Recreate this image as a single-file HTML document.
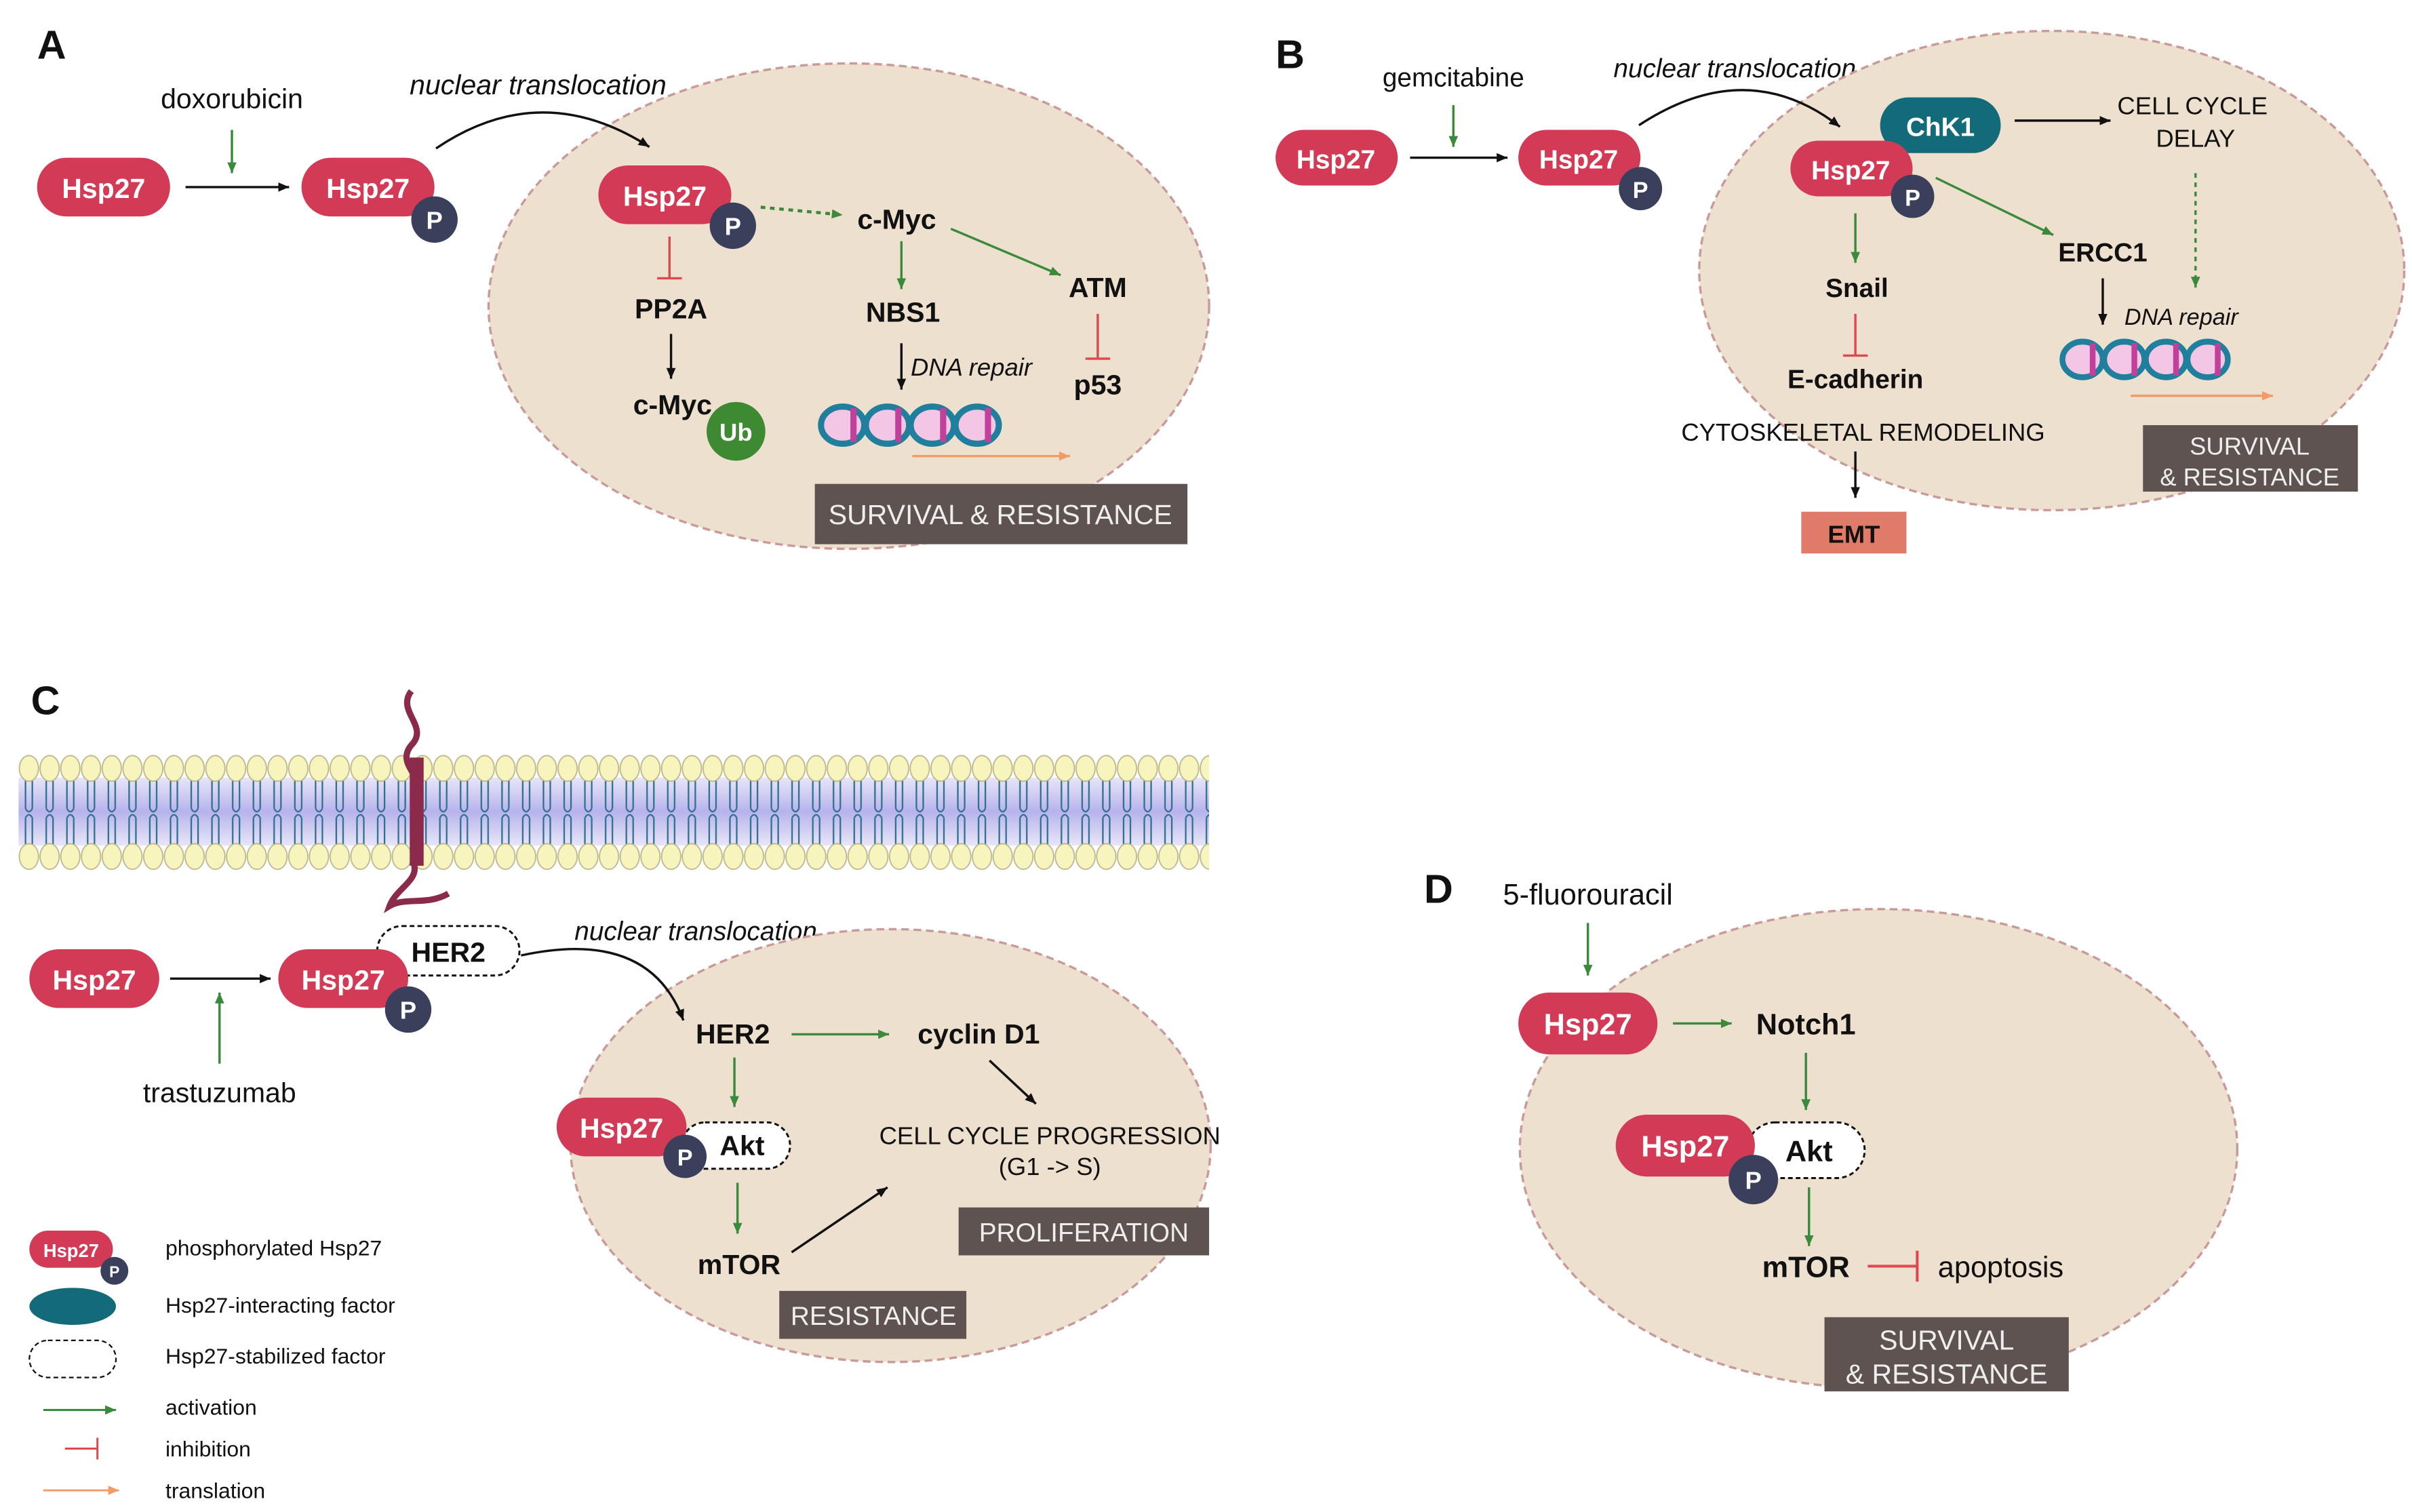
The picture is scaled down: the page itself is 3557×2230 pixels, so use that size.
<!DOCTYPE html>
<html><head><meta charset="utf-8"><style>html,body{margin:0;padding:0;background:#fff}svg{display:block}text{font-family:"Liberation Sans",sans-serif}</style></head><body>
<svg width="3557" height="2230" viewBox="0 0 1560 978" xmlns="http://www.w3.org/2000/svg">
<defs>
<marker id="ak" markerWidth="8" markerHeight="8" refX="7" refY="4" orient="auto" markerUnits="userSpaceOnUse"><path d="M0,1 L7,4 L0,7 z" fill="#111"/></marker>
<marker id="ag" markerWidth="8" markerHeight="8" refX="7" refY="4" orient="auto" markerUnits="userSpaceOnUse"><path d="M0,1 L7,4 L0,7 z" fill="#3b8a3b"/></marker>
<marker id="ao" markerWidth="8" markerHeight="8" refX="7" refY="4" orient="auto" markerUnits="userSpaceOnUse"><path d="M0,1 L7,4 L0,7 z" fill="#f39a66"/></marker>
<linearGradient id="band" x1="0" y1="0" x2="0" y2="1"><stop offset="0" stop-color="#e8e6f8"/><stop offset="0.5" stop-color="#b7b3ec"/><stop offset="1" stop-color="#e8e6f8"/></linearGradient>
<pattern id="mem" x="12" y="486" width="13.4" height="80" patternUnits="userSpaceOnUse">
<path d="M4.5,19 V37 M8.9,19 V37 M4.5,37 q2.2,4 4.4,0 M4.5,61 V43 M8.9,61 V43 M4.5,43 q2.2,-4 4.4,0" stroke="#2f6f8f" stroke-width="1" fill="none"/>
<ellipse cx="6.7" cy="11" rx="6.2" ry="8.3" fill="#f8f4be" stroke="#bdb78c" stroke-width="0.8"/>
<ellipse cx="6.7" cy="68" rx="6.2" ry="8.3" fill="#f8f4be" stroke="#bdb78c" stroke-width="0.8"/>
</pattern>
<g id="dna">
<ellipse cx="15" cy="13" rx="14" ry="12" fill="#f4c6e6" stroke="#1f7f9c" stroke-width="4"/>
<ellipse cx="44" cy="13" rx="14" ry="12" fill="#f4c6e6" stroke="#1f7f9c" stroke-width="4"/>
<ellipse cx="73" cy="13" rx="14" ry="12" fill="#f4c6e6" stroke="#1f7f9c" stroke-width="4"/>
<ellipse cx="102" cy="13" rx="14" ry="12" fill="#f4c6e6" stroke="#1f7f9c" stroke-width="4"/>
<path d="M22,2 V24 M51,2 V24 M80,2 V24 M109,2 V24" stroke="#c0409a" stroke-width="4"/>
</g>
</defs>
<g font-size="18" fill="#111">
<!-- Panel A -->
<text x="24" y="38" font-size="26" font-weight="bold">A</text>
<text x="150" y="70" text-anchor="middle">doxorubicin</text>
<line x1="150" y1="84" x2="150" y2="112" stroke="#3b8a3b" stroke-width="1.5" marker-end="url(#ag)"/>
<rect x="24" y="102" width="86" height="38" rx="19" fill="#d33a55"/><text x="67" y="128" text-anchor="middle" fill="#fff" font-weight="bold">Hsp27</text>
<line x1="120" y1="121" x2="187" y2="121" stroke="#111" stroke-width="1.5" marker-end="url(#ak)"/>
<rect x="195" y="102" width="86" height="38" rx="19" fill="#d33a55"/><text x="238" y="128" text-anchor="middle" fill="#fff" font-weight="bold">Hsp27</text>
<circle cx="281" cy="142" r="15" fill="#3a3f5c"/><text x="281" y="148" text-anchor="middle" fill="#fff" font-weight="bold" font-size="16">P</text>
<text x="348" y="61" text-anchor="middle" font-style="italic">nuclear translocation</text>
<ellipse cx="549" cy="198" rx="233" ry="157" fill="#eee0cf" stroke="#c89a9a" stroke-width="1.5" stroke-dasharray="5,3"/>
<path d="M282,96 Q350,50 420,95" stroke="#111" stroke-width="1.5" fill="none" marker-end="url(#ak)"/>
<rect x="387" y="107" width="86" height="38" rx="19" fill="#d33a55"/><text x="430" y="133" text-anchor="middle" fill="#fff" font-weight="bold">Hsp27</text>
<circle cx="474" cy="146" r="15" fill="#3a3f5c"/><text x="474" y="152" text-anchor="middle" fill="#fff" font-weight="bold" font-size="16">P</text>
<line x1="492" y1="134" x2="545" y2="139" stroke="#3b8a3b" stroke-width="2" stroke-dasharray="3,3" marker-end="url(#ag)"/>
<text x="580" y="148" text-anchor="middle" font-weight="bold">c-Myc</text>
<line x1="583" y1="156" x2="583" y2="187" stroke="#3b8a3b" stroke-width="1.5" marker-end="url(#ag)"/>
<text x="584" y="208" text-anchor="middle" font-weight="bold">NBS1</text>
<line x1="615" y1="148" x2="686" y2="178" stroke="#3b8a3b" stroke-width="1.5" marker-end="url(#ag)"/>
<text x="710" y="192" text-anchor="middle" font-weight="bold">ATM</text>
<path d="M433,153 V180 M425,180 H441" stroke="#e0474f" stroke-width="1.5"/>
<text x="434" y="206" text-anchor="middle" font-weight="bold">PP2A</text>
<line x1="434" y1="216" x2="434" y2="245" stroke="#111" stroke-width="1.5" marker-end="url(#ak)"/>
<text x="435" y="268" text-anchor="middle" font-weight="bold">c-Myc</text>
<circle cx="476" cy="279" r="19" fill="#3d8a32"/><text x="476" y="285" text-anchor="middle" fill="#fff" font-weight="bold" font-size="16">Ub</text>
<line x1="583" y1="222" x2="583" y2="252" stroke="#111" stroke-width="1.5" marker-end="url(#ak)"/>
<text x="589" y="243" font-style="italic" font-size="16">DNA repair</text>
<path d="M710,203 V232 M702,232 H718" stroke="#e0474f" stroke-width="1.5"/>
<text x="710" y="255" text-anchor="middle" font-weight="bold">p53</text>
<use href="#dna" x="530" y="262"/>
<line x1="590" y1="295" x2="692" y2="295" stroke="#f39a66" stroke-width="1.5" marker-end="url(#ao)"/>
<rect x="527" y="313" width="241" height="39" fill="#5e5350"/><text x="647" y="339" text-anchor="middle" fill="#eee">SURVIVAL &amp; RESISTANCE</text>

<!-- Panel B -->
<text x="825" y="44" font-size="26" font-weight="bold">B</text>
<text x="940" y="56" text-anchor="middle" font-size="17">gemcitabine</text>
<line x1="940" y1="68" x2="940" y2="95" stroke="#3b8a3b" stroke-width="1.5" marker-end="url(#ag)"/>
<rect x="825" y="84" width="79" height="36" rx="18" fill="#d33a55"/><text x="864" y="109" text-anchor="middle" fill="#fff" font-weight="bold" font-size="17">Hsp27</text>
<line x1="912" y1="102" x2="975" y2="102" stroke="#111" stroke-width="1.5" marker-end="url(#ak)"/>
<rect x="982" y="84" width="79" height="36" rx="18" fill="#d33a55"/><text x="1021" y="109" text-anchor="middle" fill="#fff" font-weight="bold" font-size="17">Hsp27</text>
<circle cx="1061" cy="122" r="14" fill="#3a3f5c"/><text x="1061" y="128" text-anchor="middle" fill="#fff" font-weight="bold" font-size="15">P</text>
<text x="1122" y="50" text-anchor="middle" font-style="italic" font-size="17">nuclear translocation</text>
<ellipse cx="1327" cy="175" rx="228" ry="155" fill="#eee0cf" stroke="#c89a9a" stroke-width="1.5" stroke-dasharray="5,3"/>
<path d="M1060,81 Q1130,35 1190,82" stroke="#111" stroke-width="1.5" fill="none" marker-end="url(#ak)"/>
<rect x="1216" y="63" width="78" height="36" rx="18" fill="#136a78"/><text x="1255" y="88" text-anchor="middle" fill="#fff" font-weight="bold" font-size="17">ChK1</text>
<line x1="1303" y1="78" x2="1365" y2="78" stroke="#111" stroke-width="1.5" marker-end="url(#ak)"/>
<text x="1418" y="74" text-anchor="middle" font-size="16">CELL CYCLE</text><text x="1420" y="95" text-anchor="middle" font-size="16">DELAY</text>
<line x1="1420" y1="112" x2="1420" y2="186" stroke="#3b8a3b" stroke-width="1.5" stroke-dasharray="3,3" marker-end="url(#ag)"/>
<rect x="1158" y="91" width="79" height="36" rx="18" fill="#d33a55"/><text x="1197" y="116" text-anchor="middle" fill="#fff" font-weight="bold" font-size="17">Hsp27</text>
<circle cx="1237" cy="127" r="14" fill="#3a3f5c"/><text x="1237" y="133" text-anchor="middle" fill="#fff" font-weight="bold" font-size="15">P</text>
<line x1="1252" y1="115" x2="1328" y2="152" stroke="#3b8a3b" stroke-width="1.5" marker-end="url(#ag)"/>
<text x="1360" y="169" text-anchor="middle" font-weight="bold" font-size="17">ERCC1</text>
<line x1="1200" y1="138" x2="1200" y2="170" stroke="#3b8a3b" stroke-width="1.5" marker-end="url(#ag)"/>
<text x="1201" y="192" text-anchor="middle" font-weight="bold" font-size="17">Snail</text>
<path d="M1200,203 V230 M1192,230 H1208" stroke="#e0474f" stroke-width="1.5"/>
<text x="1200" y="251" text-anchor="middle" font-weight="bold" font-size="17">E-cadherin</text>
<line x1="1360" y1="180" x2="1360" y2="210" stroke="#111" stroke-width="1.5" marker-end="url(#ak)"/>
<text x="1374" y="210" font-style="italic" font-size="15">DNA repair</text>
<use href="#dna" x="1333" y="220" transform="translate(1333,220) scale(0.93,0.96) translate(-1333,-220)"/>
<line x1="1378" y1="256" x2="1470" y2="256" stroke="#f39a66" stroke-width="1.5" marker-end="url(#ao)"/>
<text x="1205" y="285" text-anchor="middle" font-size="16">CYTOSKELETAL REMODELING</text>
<line x1="1200" y1="292" x2="1200" y2="322" stroke="#111" stroke-width="1.5" marker-end="url(#ak)"/>
<rect x="1165" y="331" width="68" height="27" fill="#e07b6a"/><text x="1199" y="351" text-anchor="middle" font-weight="bold" font-size="16">EMT</text>
<rect x="1386" y="275" width="139" height="43" fill="#5e5350"/><text x="1455" y="294" text-anchor="middle" fill="#eee" font-size="16">SURVIVAL</text><text x="1455" y="314" text-anchor="middle" fill="#eee" font-size="16">&amp; RESISTANCE</text>

<!-- Panel C -->
<text x="20" y="462" font-size="26" font-weight="bold">C</text>
<rect x="12" y="503" width="770" height="44" fill="url(#band)"/>
<rect x="12" y="486" width="770" height="80" fill="url(#mem)"/>
<path d="M266,447 C256,460 278,470 266,482 C256,494 274,502 268,510 L268,560 C270,570 256,575 252,586 C262,580 276,586 290,578" stroke="#8b2a4a" stroke-width="4" fill="none"/>
<rect x="265" y="490" width="9" height="70" fill="#8b2a4a"/>
<rect x="19" y="614" width="84" height="38" rx="19" fill="#d33a55"/><text x="61" y="640" text-anchor="middle" fill="#fff" font-weight="bold">Hsp27</text>
<line x1="110" y1="633" x2="175" y2="633" stroke="#111" stroke-width="1.5" marker-end="url(#ak)"/>
<line x1="142" y1="688" x2="142" y2="642" stroke="#3b8a3b" stroke-width="1.5" marker-end="url(#ag)"/>
<text x="142" y="713" text-anchor="middle">trastuzumab</text>
<rect x="244" y="599" width="92" height="32" rx="16" fill="#fff" stroke="#111" stroke-width="1.3" stroke-dasharray="3,2"/><text x="290" y="622" text-anchor="middle" font-weight="bold">HER2</text>
<rect x="180" y="614" width="84" height="38" rx="19" fill="#d33a55"/><text x="222" y="640" text-anchor="middle" fill="#fff" font-weight="bold">Hsp27</text>
<circle cx="264" cy="653" r="15" fill="#3a3f5c"/><text x="264" y="659" text-anchor="middle" fill="#fff" font-weight="bold" font-size="16">P</text>
<text x="450" y="608" text-anchor="middle" font-style="italic" font-size="17">nuclear translocation</text>
<ellipse cx="576" cy="741" rx="207" ry="140" fill="#eee0cf" stroke="#c89a9a" stroke-width="1.5" stroke-dasharray="5,3"/>
<path d="M337,618 Q420,600 442,660" stroke="#111" stroke-width="1.5" fill="none" marker-end="url(#ak)"/>
<text x="474" y="675" text-anchor="middle" font-weight="bold">HER2</text>
<line x1="512" y1="669" x2="575" y2="669" stroke="#3b8a3b" stroke-width="1.5" marker-end="url(#ag)"/>
<text x="633" y="675" text-anchor="middle" font-weight="bold">cyclin D1</text>
<line x1="640" y1="686" x2="670" y2="714" stroke="#111" stroke-width="1.5" marker-end="url(#ak)"/>
<text x="679" y="740" text-anchor="middle" font-size="16">CELL CYCLE PROGRESSION</text><text x="679" y="760" text-anchor="middle" font-size="16">(G1 -&gt; S)</text>
<line x1="475" y1="684" x2="475" y2="716" stroke="#3b8a3b" stroke-width="1.5" marker-end="url(#ag)"/>
<rect x="441" y="726" width="70" height="30" rx="15" fill="#fff" stroke="#111" stroke-width="1.3" stroke-dasharray="3,2"/><text x="480" y="747" text-anchor="middle" font-weight="bold">Akt</text>
<rect x="360" y="710" width="84" height="38" rx="19" fill="#d33a55"/><text x="402" y="736" text-anchor="middle" fill="#fff" font-weight="bold">Hsp27</text>
<circle cx="443" cy="748" r="14" fill="#3a3f5c"/><text x="443" y="754" text-anchor="middle" fill="#fff" font-weight="bold" font-size="15">P</text>
<line x1="477" y1="765" x2="477" y2="798" stroke="#3b8a3b" stroke-width="1.5" marker-end="url(#ag)"/>
<text x="478" y="824" text-anchor="middle" font-weight="bold">mTOR</text>
<line x1="512" y1="810" x2="574" y2="768" stroke="#111" stroke-width="1.5" marker-end="url(#ak)"/>
<rect x="620" y="781" width="162" height="31" fill="#5e5350"/><text x="701" y="803" text-anchor="middle" fill="#eee" font-size="17">PROLIFERATION</text>
<rect x="504" y="835" width="121" height="31" fill="#5e5350"/><text x="565" y="857" text-anchor="middle" fill="#eee" font-size="17">RESISTANCE</text>

<!-- Legend -->
<rect x="19" y="796" width="54" height="24" rx="12" fill="#d33a55"/><text x="46" y="813" text-anchor="middle" fill="#fff" font-weight="bold" font-size="12">Hsp27</text>
<circle cx="74" cy="822" r="9" fill="#3a3f5c"/><text x="74" y="826" text-anchor="middle" fill="#fff" font-weight="bold" font-size="10">P</text>
<text x="107" y="812" font-size="14">phosphorylated Hsp27</text>
<ellipse cx="47" cy="845" rx="28" ry="12" fill="#136a78"/>
<text x="107" y="849" font-size="14">Hsp27-interacting factor</text>
<rect x="19" y="867" width="56" height="24" rx="12" fill="#fff" stroke="#111" stroke-width="1" stroke-dasharray="3,2"/>
<text x="107" y="882" font-size="14">Hsp27-stabilized factor</text>
<line x1="28" y1="912" x2="75" y2="912" stroke="#3b8a3b" stroke-width="1.3" marker-end="url(#ag)"/>
<text x="107" y="915" font-size="14">activation</text>
<path d="M42,937 H63 M63,930 V944" stroke="#e0474f" stroke-width="1.3"/>
<text x="107" y="942" font-size="14">inhibition</text>
<line x1="28" y1="964" x2="77" y2="964" stroke="#f39a66" stroke-width="1.3" marker-end="url(#ao)"/>
<text x="107" y="969" font-size="14">translation</text>

<!-- Panel D -->
<text x="921" y="584" font-size="26" font-weight="bold">D</text>
<text x="1027" y="585" text-anchor="middle" font-size="19">5-fluorouracil</text>
<line x1="1027" y1="597" x2="1027" y2="631" stroke="#3b8a3b" stroke-width="1.5" marker-end="url(#ag)"/>
<ellipse cx="1215" cy="743" rx="232" ry="155" fill="#eee0cf" stroke="#c89a9a" stroke-width="1.5" stroke-dasharray="5,3"/>
<rect x="982" y="642" width="90" height="40" rx="20" fill="#d33a55"/><text x="1027" y="669" text-anchor="middle" fill="#fff" font-weight="bold" font-size="19">Hsp27</text>
<line x1="1082" y1="662" x2="1120" y2="662" stroke="#3b8a3b" stroke-width="1.5" marker-end="url(#ag)"/>
<text x="1168" y="669" text-anchor="middle" font-weight="bold" font-size="19">Notch1</text>
<line x1="1168" y1="681" x2="1168" y2="718" stroke="#3b8a3b" stroke-width="1.5" marker-end="url(#ag)"/>
<rect x="1130" y="726" width="76" height="36" rx="18" fill="#fff" stroke="#111" stroke-width="1.3" stroke-dasharray="3,2"/><text x="1170" y="751" text-anchor="middle" font-weight="bold" font-size="19">Akt</text>
<rect x="1045" y="721" width="90" height="40" rx="20" fill="#d33a55"/><text x="1090" y="748" text-anchor="middle" fill="#fff" font-weight="bold" font-size="19">Hsp27</text>
<circle cx="1134" cy="763" r="16" fill="#3a3f5c"/><text x="1134" y="769" text-anchor="middle" fill="#fff" font-weight="bold" font-size="16">P</text>
<line x1="1170" y1="768" x2="1170" y2="806" stroke="#3b8a3b" stroke-width="1.5" marker-end="url(#ag)"/>
<text x="1168" y="826" text-anchor="middle" font-weight="bold" font-size="19">mTOR</text>
<path d="M1208,819 H1240 M1240,809 V829" stroke="#e0474f" stroke-width="1.8"/>
<text x="1294" y="826" text-anchor="middle" font-size="19">apoptosis</text>
<rect x="1180" y="852" width="158" height="48" fill="#5e5350"/><text x="1259" y="873" text-anchor="middle" fill="#eee" font-size="18">SURVIVAL</text><text x="1259" y="895" text-anchor="middle" fill="#eee" font-size="18">&amp; RESISTANCE</text>
</g>
</svg>
</body></html>
